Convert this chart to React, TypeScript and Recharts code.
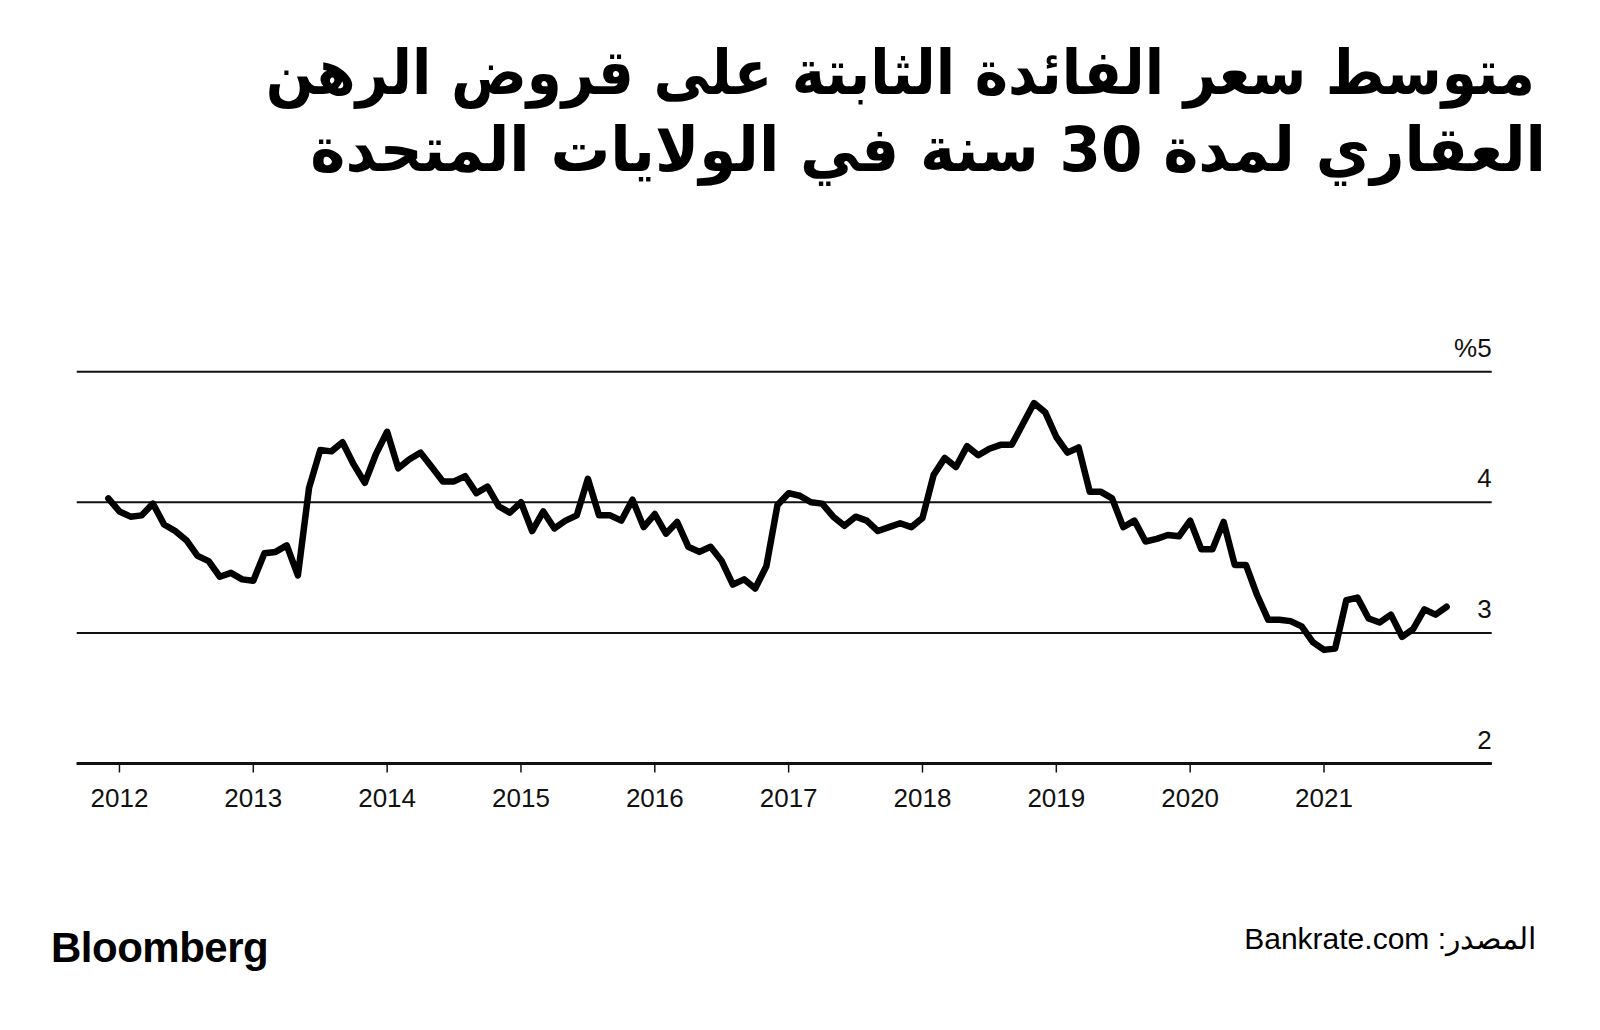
import React from 'react';
import { LineChart, Line, XAxis, YAxis, CartesianGrid } from 'recharts';

const W = 1600;
const H = 1030;

const titleLine1 = 'متوسط سعر الفائدة الثابتة على قروض الرهن';
const titleLine2 = 'العقاري لمدة 30 سنة في الولايات المتحدة';
const sourceText = 'المصدر: Bankrate.com';
const brandText = 'Bloomberg';

// Monthly average 30-year fixed mortgage rate (%), Dec 2011 – Dec 2021
const ratesDec2011 = [4.03];
const rates2012 = [3.93, 3.89, 3.9, 3.99, 3.83, 3.78, 3.71, 3.59, 3.55, 3.43, 3.46, 3.41];
const rates2013 = [3.4, 3.61, 3.62, 3.67, 3.44, 4.11, 4.4, 4.39, 4.46, 4.29, 4.15, 4.37];
const rates2014 = [4.54, 4.26, 4.33, 4.38, 4.27, 4.16, 4.16, 4.2, 4.07, 4.12, 3.97, 3.92];
const rates2015 = [4.0, 3.78, 3.93, 3.8, 3.86, 3.9, 4.18, 3.9, 3.9, 3.86, 4.02, 3.81];
const rates2016 = [3.91, 3.76, 3.85, 3.66, 3.62, 3.66, 3.55, 3.37, 3.41, 3.34, 3.51, 3.98];
const rates2017 = [4.07, 4.05, 4.0, 3.99, 3.89, 3.82, 3.89, 3.86, 3.78, 3.81, 3.84, 3.81];
const rates2018 = [3.88, 4.21, 4.34, 4.27, 4.43, 4.36, 4.41, 4.44, 4.44, 4.6, 4.76, 4.69];
const rates2019 = [4.5, 4.38, 4.42, 4.08, 4.08, 4.03, 3.81, 3.86, 3.7, 3.72, 3.75, 3.74];
const rates2020 = [3.86, 3.64, 3.64, 3.85, 3.52, 3.52, 3.29, 3.1, 3.1, 3.09, 3.05, 2.93];
const rates2021 = [2.87, 2.88, 3.25, 3.27, 3.11, 3.08, 3.14, 2.97, 3.03, 3.18, 3.14, 3.2];

const firstYear = 2011;
const firstMonth = 12; // December

const rates = [
  ...ratesDec2011,
  ...rates2012,
  ...rates2013,
  ...rates2014,
  ...rates2015,
  ...rates2016,
  ...rates2017,
  ...rates2018,
  ...rates2019,
  ...rates2020,
  ...rates2021,
];

const yearTicks = [2012, 2013, 2014, 2015, 2016, 2017, 2018, 2019, 2020, 2021];
const rateTicks = [2, 3, 4, 5];
const rateTickLabels = ['2', '3', '4', '%5'];

const data = rates.map((rate, i) => ({
  t: firstYear + (firstMonth - 1) / 12 + i / 12,
  rate,
}));

const numFont = '"Liberation Sans", Arial, sans-serif';

const renderYTick = (props: any) => {
  const { x, y, payload } = props;
  const idx = rateTicks.indexOf(payload.value);
  const label = idx >= 0 ? rateTickLabels[idx] : String(payload.value);
  return (
    <text x={x} y={y - 15} textAnchor="end" fontSize={26} fontFamily={numFont} fill="#111">
      {label}
    </text>
  );
};

export default function App() {
  return (
    <div
      style={{
        position: 'absolute',
        left: 0,
        top: 0,
        width: W,
        height: H,
        background: '#fff',
        overflow: 'hidden',
      }}
    >
      <div
        dir="rtl"
        style={{
          position: 'absolute',
          right: 0,
          top: 34,
          width: 1600,
          textAlign: 'right',
          fontFamily: '"DejaVu Sans", sans-serif',
          fontWeight: 700,
          fontSize: 62,
          lineHeight: '77px',
          color: '#000',
          whiteSpace: 'nowrap',
        }}
      >
        <div style={{ marginRight: 65, transform: 'scaleX(0.91)', transformOrigin: '100% 50%' }}>{titleLine1}</div>
        <div style={{ marginRight: 54, transform: 'scaleX(0.96)', transformOrigin: '100% 50%' }}>{titleLine2}</div>
      </div>

      <div style={{ position: 'absolute', left: 0, top: 0 }}>
        <LineChart
          width={W}
          height={H}
          data={data}
          margin={{ top: 371.7, right: 107.3, bottom: 206.5, left: 76.7 }}
        >
          <CartesianGrid vertical={false} stroke="#111" strokeWidth={2} />
          <XAxis
            dataKey="t"
            type="number"
            domain={[2011.6806, 2022.253]}
            ticks={yearTicks}
            allowDataOverflow
            height={60}
            axisLine={{ stroke: '#111', strokeWidth: 3 }}
            tickLine={{ stroke: '#111', strokeWidth: 1.5 }}
            tickSize={9}
            tickMargin={16}
            tick={{ fontSize: 26, fontFamily: numFont, fill: '#111' }}
          />
          <YAxis
            orientation="right"
            type="number"
            domain={[2, 5]}
            ticks={rateTicks}
            width={1}
            axisLine={false}
            tickLine={false}
            tickSize={0}
            tickMargin={0}
            tick={renderYTick}
          />
          <Line
            dataKey="rate"
            type="linear"
            stroke="#000"
            strokeWidth={6.5}
            strokeLinejoin="round"
            strokeLinecap="round"
            dot={false}
            isAnimationActive={false}
          />
        </LineChart>
      </div>

      <div
        style={{
          position: 'absolute',
          left: 51,
          top: 924,
          fontFamily: numFont,
          fontWeight: 700,
          fontSize: 42,
          lineHeight: '48px',
          letterSpacing: -0.5,
          color: '#000',
        }}
      >
        {brandText}
      </div>
      <div
        dir="rtl"
        style={{
          position: 'absolute',
          right: 64,
          top: 919,
          fontFamily: numFont,
          fontSize: 30,
          lineHeight: '40px',
          color: '#000',
          whiteSpace: 'nowrap',
        }}
      >
        {sourceText}
      </div>
    </div>
  );
}
